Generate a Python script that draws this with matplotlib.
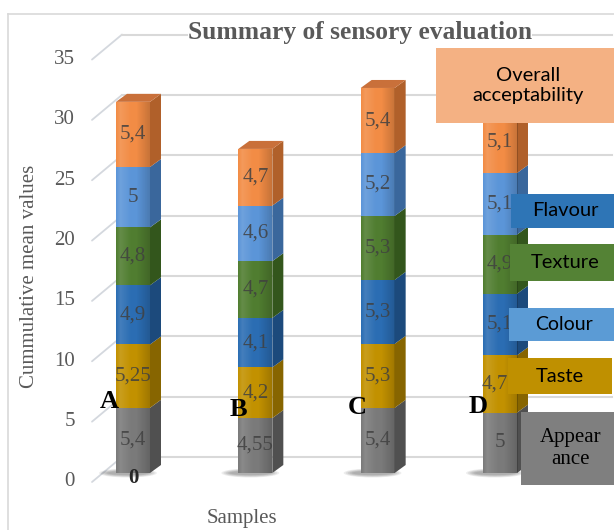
import matplotlib
matplotlib.use("Agg")
import matplotlib.pyplot as plt
from matplotlib.patches import Polygon, Rectangle, Ellipse
from matplotlib.lines import Line2D
import numpy as np

# ---- data -------------------------------------------------------------
samples = ["A", "B", "C", "D"]
appearance = [5.4, 4.55, 5.4, 5.0]
taste = [5.25, 4.2, 5.3, 4.75]
flavour = [4.9, 4.1, 5.3, 5.1]
texture = [4.8, 4.7, 5.3, 4.9]
colour = [5.0, 4.6, 5.2, 5.1]
overall = [5.4, 4.7, 5.4, 5.1]
y_ticks = [0, 5, 10, 15, 20, 25, 30, 35]

series_names = ["Appearance", "Taste", "Flavour", "Texture", "Colour",
                "Overall acceptability"]
series_values = [appearance, taste, flavour, texture, colour, overall]
front_colors = ["#7a7a7a", "#c29100", "#2b6db3", "#507d30", "#5b95d8", "#f28c45"]
side_colors = ["#505050", "#876500", "#1c4a7c", "#33561c", "#3a679c", "#b0602a"]

W, H = 614, 530
fig = plt.figure(figsize=(W / 100, H / 100), dpi=100)
ax = fig.add_axes([0, 0, 1, 1])
ax.axis("off")

# pixel geometry of the plotting plane
X0_PX, PX_PER_X = 133.0, 122.33     # centre of first bar, spacing
V0_PY, PX_PER_V = 473.0, 12.07      # baseline row, pixels per unit


def px2x(px):
    return (px - X0_PX) / PX_PER_X


ax.set_xlim(px2x(0), px2x(W))
ax.set_ylim((V0_PY - H) / PX_PER_V, V0_PY / PX_PER_V)

serif = "Liberation Serif"
grey_txt = "#595959"

# ---- chart border ----------------------------------------------------
fig.add_artist(Line2D([8 / W, 1], [1 - 14 / H, 1 - 14 / H],
                      transform=fig.transFigure, color="#d9d9d9", lw=1.2))
fig.add_artist(Line2D([8 / W, 8 / W], [1 - 14 / H, 0],
                      transform=fig.transFigure, color="#d9d9d9", lw=1.2))

# ---- gridlines (front edge -> back wall) ------------------------------
front_dv = -9 / PX_PER_V
back_dv = 16 / PX_PER_V
for v in y_ticks:
    ax.plot([px2x(92), px2x(122)], [v + front_dv, v + back_dv],
            color="#d4d8de", lw=1.3, zorder=1, solid_capstyle="round")
    ax.plot([px2x(122), px2x(612)], [v + back_dv, v + back_dv],
            color="#d9d9d9", lw=1.5, zorder=1)
    ax.text(px2x(75), v + front_dv, str(v), ha="right", va="center",
            family=serif, fontsize=15, color=grey_txt)

# ---- stacked 3-D style bars --------------------------------------------
bar_w = 34 / PX_PER_X
dx = 11 / PX_PER_X
dy = 8 / PX_PER_V
x = np.arange(len(samples))

# horizontal shading across each bar face (light left, darker right)
shade = np.linspace(0, 1, 64)
shade_rgba = np.zeros((1, 64, 4))
shade_rgba[..., :3] = np.where(shade[None, :, None] < 0.45, 1.0, 0.0)
shade_rgba[..., 3] = np.interp(shade, [0, 0.12, 0.45, 0.6, 1.0],
                               [0.0, 0.12, 0.0, 0.0, 0.18])

bottoms = np.zeros(len(samples))
for vals, fc, sc in zip(series_values, front_colors, side_colors):
    vals = np.asarray(vals)
    bars = ax.bar(x, vals, bar_w, bottom=bottoms, color=fc, zorder=3,
                  linewidth=0)
    for i, rect in enumerate(bars):
        xl = x[i] - bar_w / 2
        xr = x[i] + bar_w / 2
        y0, y1 = bottoms[i], bottoms[i] + vals[i]
        im = ax.imshow(shade_rgba, extent=(xl, xr, y0, y1), aspect="auto",
                       zorder=3.5, interpolation="bilinear")
        im.set_clip_path(rect)
        ax.add_patch(Polygon([(xr, y0), (xr + dx, y0 + dy), (xr + dx, y1 + dy),
                              (xr, y1)], closed=True, facecolor=sc,
                             edgecolor="none", zorder=3))
        ax.text(x[i], y0 + vals[i] / 2, f"{vals[i]:g}".replace(".", ","),
                ha="center", va="center", family=serif, fontsize=15,
                color="#404040", alpha=0.85, zorder=5)
    bottoms = bottoms + vals

# top caps and floor shadows
for i in range(len(samples)):
    xl, xr = x[i] - bar_w / 2, x[i] + bar_w / 2
    t = bottoms[i]
    ax.add_patch(Polygon([(xl, t), (xl + dx, t + dy), (xr + dx, t + dy), (xr, t)],
                         closed=True, facecolor="#c9703a", edgecolor="none",
                         zorder=3))
    for k in range(5):
        ax.add_patch(Ellipse((x[i] - bar_w * 0.15, 0.0),
                             bar_w * (1.7 - 0.12 * k), 0.75 - 0.1 * k,
                             facecolor="#000000", alpha=0.07,
                             edgecolor="none", zorder=2))

# sample letters and zero label
letter_pos = [(-0.196, 5.9), (-0.142, 5.3), (-0.169, 5.45), (-0.18, 5.55)]
for i, (s, (ox, ly)) in enumerate(zip(samples, letter_pos)):
    ax.text(x[i] + ox, ly, s, ha="center", va="center", family=serif,
            fontsize=19, fontweight="bold", color="black", zorder=6)
ax.text(x[0], -0.42, "0", ha="center", va="center", family=serif,
        fontsize=15, fontweight="bold", color="#262626", zorder=6)

# ---- titles -----------------------------------------------------------
fig.text(360 / W, 1 - 33 / H, "Summary of sensory evaluation", ha="center",
         va="center", family=serif, fontsize=18.4, fontweight="bold",
         color=grey_txt, bbox=dict(facecolor="white", edgecolor="none", pad=0))
fig.text(30 / W, 1 - 276 / H, "Cummulative mean values", rotation=90,
         ha="center", va="center", family=serif, fontsize=15, color=grey_txt)
fig.text(242 / W, 1 - 519 / H, "Samples", ha="center", va="center",
         family=serif, fontsize=15, color=grey_txt)

# ---- legend boxes -------------------------------------------------------
def box(x0, y0, x1, y1, color, label, font, size, tcolor="black"):
    fig.add_artist(Rectangle((x0 / W, 1 - y1 / H), (x1 - x0) / W, (y1 - y0) / H,
                             transform=fig.transFigure, facecolor=color,
                             edgecolor="none", zorder=10))
    fig.text((x0 + x1) / 2 / W, 1 - (y0 + y1) / 2 / H, label, ha="center",
             va="center", family=font, fontsize=size, color=tcolor, zorder=11,
             linespacing=1.25)


sans = "Lato"
box(436, 48, 620, 123, "#f4b183", "Overall\nacceptability", sans, 14.5)
box(511, 194, 620, 228, "#2e75b6", "Flavour", sans, 14.5)
box(510, 244, 620, 281, "#548235", "Texture", sans, 14.5)
box(509, 308, 620, 341, "#5b9bd5", "Colour", sans, 14)
box(508, 358, 612, 394, "#bf9000", "Taste", sans, 14.5)
box(521, 412, 620, 485, "#7f7f7f", "Appear\nance", serif, 15)

fig.savefig("out.png", dpi=100)
